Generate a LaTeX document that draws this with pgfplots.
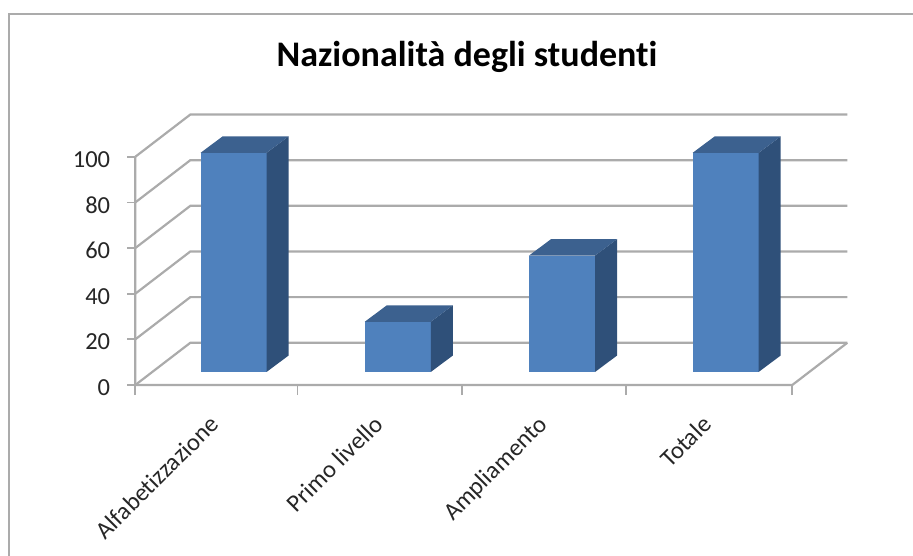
\documentclass[border=0pt]{standalone}
\usepackage{pgfplots}
\usepackage{pgfplotstable}
\pgfplotsset{compat=1.18}
\usepackage{fontspec}
\setmainfont{Carlito}[Ligatures=NoCommon]

\definecolor{barfront}{HTML}{4F81BD}
\definecolor{bartop}{HTML}{3C618F}
\definecolor{barside}{HTML}{2F5079}
\definecolor{gridgray}{HTML}{ABABAB}
\definecolor{framegray}{HTML}{ABABAB}

% corners of one 3D bar: dx and dy are offsets, k says how much of the value is added
\pgfplotstableread{
dx    k dy
0     0 0
0.402 0 0
0.402 1 0
0     1 0
}\frontface
\pgfplotstableread{
dx    k dy
0.402 0 0
0.536 0 7.2
0.536 1 7.2
0.402 1 0
}\sideface
\pgfplotstableread{
dx    k dy
0     1 0
0.402 1 0
0.536 1 7.2
0.134 1 7.2
}\topface

\newcommand{\threedbar}[2]{
  \addplot[fill=barfront,draw=none] table[x expr={#1+\thisrow{dx}},y expr={5.7+#2*\thisrow{k}+\thisrow{dy}}] {\frontface} -- cycle;
  \addplot[fill=barside,draw=none] table[x expr={#1+\thisrow{dx}},y expr={5.7+#2*\thisrow{k}+\thisrow{dy}}] {\sideface} -- cycle;
  \addplot[fill=bartop,draw=none] table[x expr={#1+\thisrow{dx}},y expr={5.7+#2*\thisrow{k}+\thisrow{dy}}] {\topface} -- cycle;
}

\begin{document}
\begin{tikzpicture}[x=1pt,y=1pt]
\path[use as bounding box] (0,0) rectangle (913,-556);
\draw[framegray,line width=2pt] (8.5,-556) -- (8.5,-14) -- (913,-14);
\node[font=\fontsize{36}{38}\selectfont\bfseries] at (467,-57) {Nazionalità degli studenti};
\begin{axis}[
    at={(135.3pt,-385pt)},
    anchor=south west,
    scale only axis,
    width=712pt,
    height=270pt,
    xmin=0, xmax=4.335,
    ymin=0, ymax=118.3,
    clip=false,
    axis line style={draw=none},
    xtick={0.5,1.5,2.5,3.5},
    xticklabels={Alfabetizzazione,Primo livello,Ampliamento,Totale},
    minor xtick={0,0.987,1.987,2.987,4},
    ytick={0,20,40,60,80,100},
    xtick pos=bottom,
    ytick pos=left,
    tick align=outside,
    major tick length=8pt,
    minor tick length=10pt,
    major x tick style={draw=none},
    minor x tick style={gridgray,line width=1.8pt},
    major y tick style={gridgray,line width=1.8pt},
    /pgf/number format/assume math mode=true,
    tick label style={font=\fontsize{24.5}{26}\selectfont,text=black!85},
    x tick label style={rotate=45,anchor=north east,inner sep=0pt,yshift=-8pt,xshift=-21.5pt},
    y tick label style={inner sep=0pt,xshift=-17pt,yshift=-2.5pt},
]
% walls and floor
\addplot[gridgray,line width=2.2pt] coordinates {
(0,0) (0.335,18.5) (4.335,18.5)

(0,20) (0.335,38.5) (4.335,38.5)

(0,40) (0.335,58.5) (4.335,58.5)

(0,60) (0.335,78.5) (4.335,78.5)

(0,80) (0.335,98.5) (4.335,98.5)

(0,100) (0.335,118.5) (4.335,118.5)
};
\addplot[gridgray,line width=2.2pt] coordinates {(0,100) (0,0) (4,0) (4.335,18.5)};
% bars: left edge, value
\threedbar{0.397}{96}
\threedbar{1.397}{22}
\threedbar{2.397}{51}
\threedbar{3.393}{96}
\end{axis}
\end{tikzpicture}
\end{document}
